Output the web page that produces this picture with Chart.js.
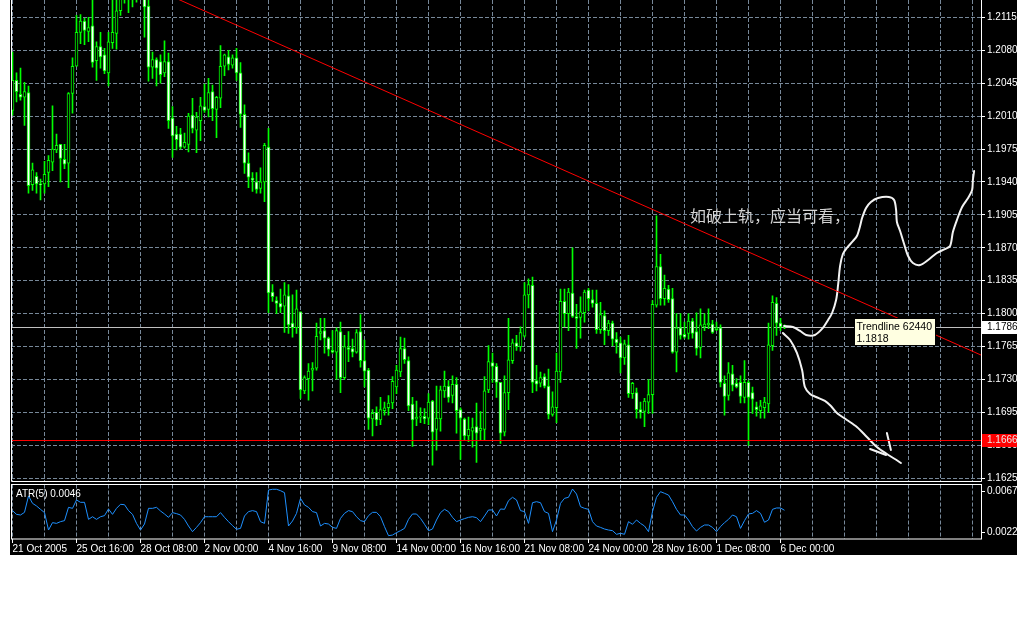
<!DOCTYPE html>
<html>
<head>
<meta charset="utf-8">
<script src="https://cdn.jsdelivr.net/npm/chart.js@4.4.0/dist/chart.umd.min.js"></script>
<style>
html, body { margin: 0; padding: 0; background: #fff; }
#panel { position: absolute; left: 10px; top: 0; width: 1007px; height: 555px; background: #000; }
canvas { position: absolute; left: 0; }
</style>
</head>
<body>
<div id="panel">
  <canvas id="price" width="1007" height="483" style="top:0"></canvas>
  <canvas id="atr" width="1007" height="72" style="top:483px"></canvas>
</div>
<script>
// EURUSD H4, 21 Oct - 6 Dec 2005, one entry per bar
var timeLabels = ['21 Oct 2005', '25 Oct 16:00', '28 Oct 08:00', '2 Nov 00:00', '4 Nov 16:00', '9 Nov 08:00',
    '14 Nov 00:00', '16 Nov 16:00', '21 Nov 08:00', '24 Nov 00:00', '28 Nov 16:00', '1 Dec 08:00', '6 Dec 00:00'];
var timeLabelBars = [0, 16, 32, 48, 64, 80, 96, 112, 128, 144, 160, 176, 192];
var priceTicks = [1.1625, 1.1660, 1.1695, 1.1730, 1.1765, 1.1800, 1.1835, 1.1870, 1.1905, 1.1940,
    1.1975, 1.2010, 1.2045, 1.2080, 1.2115];
var atrTicks = [0.0022, 0.0067];

var opens = [
    1.2016, 1.2048, 1.2033, 1.2030, 1.2035, 1.1937, 1.1946, 1.1938, 1.1938, 1.1950,
    1.1961, 1.1974, 1.1980, 1.1964, 1.1960, 1.2034, 1.2063, 1.2099, 1.2111, 1.2100,
    1.2106, 1.2069, 1.2084, 1.2075, 1.2056, 1.2088, 1.2098, 1.2122, 1.2149, 1.2146,
    1.2137, 1.2144, 1.2136, 1.2146, 1.2127, 1.2062, 1.2070, 1.2068, 1.2056, 1.2068,
    1.2008, 1.1991, 1.1991, 1.1977, 1.1980, 1.2011, 1.1995, 1.2005, 1.2020, 1.2017,
    1.2036, 1.2017, 1.2029, 1.2063, 1.2073, 1.2064, 1.2072, 1.2056, 1.2012, 1.1960,
    1.1944, 1.1940, 1.1933, 1.1940, 1.1977, 1.1823, 1.1814, 1.1811, 1.1808, 1.1819,
    1.1790, 1.1785, 1.1802, 1.1718, 1.1731, 1.1740, 1.1742, 1.1779, 1.1782, 1.1774,
    1.1761, 1.1759, 1.1781, 1.1732, 1.1764, 1.1763, 1.1759, 1.1781, 1.1750, 1.1740,
    1.1688, 1.1695, 1.1687, 1.1697, 1.1700, 1.1705, 1.1722, 1.1738, 1.1763, 1.1750,
    1.1704, 1.1688, 1.1690, 1.1691, 1.1689, 1.1707, 1.1677, 1.1688, 1.1718, 1.1723,
    1.1713, 1.1725, 1.1698, 1.1688, 1.1670, 1.1675, 1.1680, 1.1676, 1.1677, 1.1719,
    1.1748, 1.1744, 1.1727, 1.1674, 1.1716, 1.1750, 1.1769, 1.1765, 1.1776, 1.1820,
    1.1830, 1.1729, 1.1726, 1.1733, 1.1723, 1.1693, 1.1700, 1.1738, 1.1813, 1.1800,
    1.1822, 1.1797, 1.1796, 1.1801, 1.1825, 1.1815, 1.1811, 1.1783, 1.1798, 1.1782,
    1.1790, 1.1773, 1.1769, 1.1753, 1.1767, 1.1715, 1.1716, 1.1698, 1.1696, 1.1706,
    1.1714, 1.1809, 1.1850, 1.1816, 1.1826, 1.1816, 1.1759, 1.1785, 1.1778, 1.1779,
    1.1792, 1.1781, 1.1764, 1.1786, 1.1788, 1.1789, 1.1783, 1.1785, 1.1726, 1.1713,
    1.1736, 1.1726, 1.1727, 1.1711, 1.1727, 1.1716, 1.1701, 1.1697, 1.1700, 1.1704,
    1.1766, 1.1811, 1.1790, 1.1786
];
var highs = [
    1.2078, 1.2056, 1.2061, 1.2046, 1.2042, 1.1960, 1.1950, 1.1943, 1.1962, 1.1968,
    1.2021, 1.1991, 1.1980, 1.1980, 1.2035, 1.2072, 1.2117, 1.2118, 1.2114, 1.2115,
    1.2138, 1.2089, 1.2099, 1.2082, 1.2099, 1.2136, 1.2144, 1.2160, 1.2165, 1.2154,
    1.2156, 1.2160, 1.2163, 1.2154, 1.2136, 1.2078, 1.2072, 1.2075, 1.2090, 1.2077,
    1.2020, 1.1999, 1.1997, 1.1992, 1.2013, 1.2029, 1.2014, 1.2030, 1.2044, 1.2050,
    1.2043, 1.2031, 1.2085, 1.2076, 1.2080, 1.2075, 1.2082, 1.2067, 1.2022, 1.1971,
    1.1950, 1.1950, 1.1955, 1.1981, 1.1997, 1.1831, 1.1818, 1.1826, 1.1833, 1.1831,
    1.1820, 1.1825, 1.1802, 1.1734, 1.1747, 1.1748, 1.1790, 1.1795, 1.1795, 1.1775,
    1.1782, 1.1785, 1.1791, 1.1777, 1.1781, 1.1773, 1.1783, 1.1799, 1.1772, 1.1742,
    1.1698, 1.1701, 1.1711, 1.1706, 1.1713, 1.1733, 1.1745, 1.1775, 1.1774, 1.1754,
    1.1711, 1.1707, 1.1700, 1.1699, 1.1715, 1.1708, 1.1723, 1.1723, 1.1739, 1.1729,
    1.1734, 1.1732, 1.1700, 1.1689, 1.1690, 1.1689, 1.1705, 1.1696, 1.1733, 1.1766,
    1.1758, 1.1747, 1.1727, 1.1734, 1.1795, 1.1773, 1.1777, 1.1786, 1.1833, 1.1837,
    1.1839, 1.1745, 1.1738, 1.1736, 1.1741, 1.1717, 1.1758, 1.1826, 1.1826, 1.1827,
    1.1870, 1.1810, 1.1818, 1.1825, 1.1827, 1.1825, 1.1825, 1.1812, 1.1803, 1.1793,
    1.1792, 1.1780, 1.1775, 1.1772, 1.1777, 1.1727, 1.1721, 1.1706, 1.1710, 1.1730,
    1.1814, 1.1904, 1.1863, 1.1841, 1.1830, 1.1827, 1.1800, 1.1800, 1.1791, 1.1800,
    1.1795, 1.1801, 1.1805, 1.1800, 1.1805, 1.1793, 1.1791, 1.1788, 1.1734, 1.1748,
    1.1745, 1.1731, 1.1734, 1.1750, 1.1729, 1.1722, 1.1706, 1.1708, 1.1711, 1.1790,
    1.1819, 1.1817, 1.1795, 1.1788
];
var lows = [
    1.2011, 1.2025, 1.2027, 1.2000, 1.1928, 1.1931, 1.1928, 1.1921, 1.1928, 1.1935,
    1.1952, 1.1971, 1.1940, 1.1954, 1.1934, 1.2013, 1.2063, 1.2087, 1.2086, 1.2089,
    1.2062, 1.2048, 1.2061, 1.2055, 1.2042, 1.2082, 1.2081, 1.2117, 1.2130, 1.2120,
    1.2126, 1.2131, 1.2135, 1.2094, 1.2047, 1.2050, 1.2042, 1.2045, 1.2052, 1.1997,
    1.1966, 1.1974, 1.1975, 1.1976, 1.1972, 1.1992, 1.1971, 1.1984, 1.2014, 1.2009,
    1.2005, 1.1987, 1.2019, 1.2053, 1.2059, 1.2061, 1.2048, 1.1998, 1.1949, 1.1934,
    1.1930, 1.1928, 1.1928, 1.1919, 1.1801, 1.1813, 1.1800, 1.1801, 1.1780, 1.1779,
    1.1775, 1.1779, 1.1710, 1.1715, 1.1708, 1.1718, 1.1740, 1.1772, 1.1758, 1.1755,
    1.1758, 1.1730, 1.1716, 1.1730, 1.1749, 1.1754, 1.1758, 1.1743, 1.1722, 1.1677,
    1.1670, 1.1681, 1.1682, 1.1692, 1.1692, 1.1699, 1.1715, 1.1733, 1.1747, 1.1697,
    1.1659, 1.1681, 1.1684, 1.1683, 1.1682, 1.1639, 1.1655, 1.1675, 1.1711, 1.1706,
    1.1705, 1.1673, 1.1645, 1.1665, 1.1664, 1.1658, 1.1642, 1.1666, 1.1665, 1.1716,
    1.1727, 1.1711, 1.1662, 1.1670, 1.1698, 1.1747, 1.1761, 1.1760, 1.1775, 1.1806,
    1.1716, 1.1718, 1.1722, 1.1721, 1.1688, 1.1691, 1.1684, 1.1727, 1.1786, 1.1782,
    1.1796, 1.1763, 1.1774, 1.1791, 1.1803, 1.1807, 1.1779, 1.1779, 1.1767, 1.1777,
    1.1766, 1.1758, 1.1737, 1.1746, 1.1711, 1.1710, 1.1689, 1.1689, 1.1680, 1.1694,
    1.1694, 1.1807, 1.1809, 1.1809, 1.1812, 1.1758, 1.1738, 1.1773, 1.1774, 1.1773,
    1.1774, 1.1756, 1.1753, 1.1782, 1.1784, 1.1779, 1.1782, 1.1722, 1.1692, 1.1708,
    1.1718, 1.1721, 1.1705, 1.1705, 1.1660, 1.1694, 1.1691, 1.1689, 1.1689, 1.1695,
    1.1761, 1.1777, 1.1782, 1.1784
];
var closes = [
    1.2048, 1.2036, 1.2030, 1.2036, 1.1936, 1.1953, 1.1938, 1.1937, 1.1948, 1.1963,
    1.1975, 1.1979, 1.1965, 1.1959, 1.2034, 1.2063, 1.2099, 1.2111, 1.2101, 1.2104,
    1.2067, 1.2084, 1.2073, 1.2058, 1.2089, 1.2099, 1.2122, 1.2149, 1.2144, 1.2137,
    1.2144, 1.2136, 1.2146, 1.2126, 1.2062, 1.2070, 1.2061, 1.2054, 1.2068, 1.2005,
    1.1989, 1.1985, 1.1977, 1.1982, 1.2010, 1.1997, 1.2009, 1.2021, 1.2016, 1.2035,
    1.2018, 1.2030, 1.2063, 1.2075, 1.2065, 1.2072, 1.2056, 1.2012, 1.1960, 1.1945,
    1.1942, 1.1932, 1.1940, 1.1979, 1.1822, 1.1818, 1.1811, 1.1807, 1.1820, 1.1788,
    1.1785, 1.1805, 1.1719, 1.1732, 1.1739, 1.1742, 1.1776, 1.1781, 1.1774, 1.1762,
    1.1759, 1.1782, 1.1732, 1.1765, 1.1762, 1.1759, 1.1780, 1.1750, 1.1739, 1.1689,
    1.1694, 1.1687, 1.1698, 1.1700, 1.1705, 1.1728, 1.1740, 1.1763, 1.1751, 1.1702,
    1.1687, 1.1690, 1.1691, 1.1688, 1.1706, 1.1674, 1.1689, 1.1719, 1.1723, 1.1711,
    1.1725, 1.1697, 1.1689, 1.1670, 1.1677, 1.1679, 1.1673, 1.1678, 1.1718, 1.1749,
    1.1744, 1.1727, 1.1673, 1.1716, 1.1751, 1.1769, 1.1765, 1.1780, 1.1820, 1.1831,
    1.1727, 1.1725, 1.1732, 1.1723, 1.1693, 1.1701, 1.1739, 1.1813, 1.1800, 1.1823,
    1.1797, 1.1795, 1.1802, 1.1823, 1.1816, 1.1811, 1.1783, 1.1799, 1.1782, 1.1790,
    1.1773, 1.1769, 1.1753, 1.1768, 1.1715, 1.1726, 1.1698, 1.1695, 1.1707, 1.1714,
    1.1810, 1.1850, 1.1816, 1.1827, 1.1815, 1.1759, 1.1785, 1.1777, 1.1775, 1.1792,
    1.1779, 1.1763, 1.1788, 1.1789, 1.1790, 1.1780, 1.1785, 1.1727, 1.1712, 1.1737,
    1.1724, 1.1722, 1.1712, 1.1727, 1.1711, 1.1709, 1.1698, 1.1702, 1.1706, 1.1767,
    1.1812, 1.1790, 1.1786, 1.1786
];
var atr5 = [
    0.00458, 0.00417, 0.00410, 0.00439, 0.00619, 0.00538, 0.00509, 0.00472, 0.00436, 0.00245,
    0.00326, 0.00318, 0.00337, 0.00348, 0.00494, 0.00483, 0.00575, 0.00549, 0.00549, 0.00362,
    0.00391, 0.00362, 0.00391, 0.00403, 0.00476, 0.00417, 0.00483, 0.00527, 0.00523, 0.00458,
    0.00417, 0.00318, 0.00245, 0.00311, 0.00483, 0.00483, 0.00494, 0.00454, 0.00421, 0.00384,
    0.00436, 0.00425, 0.00410, 0.00362, 0.00289, 0.00227, 0.00274, 0.00326, 0.00391, 0.00391,
    0.00391, 0.00391, 0.00436, 0.00384, 0.00337, 0.00293, 0.00253, 0.00263, 0.00399, 0.00447,
    0.00458, 0.00447, 0.00337, 0.00318, 0.00684, 0.00692, 0.00692, 0.00677, 0.00655, 0.00289,
    0.00344, 0.00428, 0.00593, 0.00520, 0.00494, 0.00447, 0.00436, 0.00289, 0.00318, 0.00311,
    0.00274, 0.00263, 0.00373, 0.00428, 0.00458, 0.00447, 0.00391, 0.00348, 0.00337, 0.00403,
    0.00439, 0.00439, 0.00391, 0.00282, 0.00183, 0.00190, 0.00216, 0.00238, 0.00263, 0.00362,
    0.00421, 0.00421, 0.00373, 0.00308, 0.00238, 0.00256, 0.00355, 0.00436, 0.00472, 0.00447,
    0.00384, 0.00337, 0.00355, 0.00370, 0.00384, 0.00391, 0.00381, 0.00337, 0.00399, 0.00465,
    0.00465, 0.00399, 0.00476, 0.00472, 0.00567, 0.00604, 0.00575, 0.00458, 0.00447, 0.00318,
    0.00545, 0.00556, 0.00545, 0.00447, 0.00428, 0.00227, 0.00355, 0.00538, 0.00593, 0.00604,
    0.00695, 0.00640, 0.00501, 0.00483, 0.00472, 0.00337, 0.00289, 0.00274, 0.00256, 0.00245,
    0.00238, 0.00198, 0.00209, 0.00198, 0.00337, 0.00308, 0.00355, 0.00318, 0.00289, 0.00227,
    0.00447, 0.00604, 0.00666, 0.00648, 0.00629, 0.00556, 0.00472, 0.00410, 0.00410, 0.00355,
    0.00282, 0.00234, 0.00274, 0.00300, 0.00300, 0.00274, 0.00227, 0.00282, 0.00326, 0.00362,
    0.00410, 0.00391, 0.00263, 0.00348, 0.00421, 0.00428, 0.00458, 0.00428, 0.00330, 0.00355,
    0.00472, 0.00487, 0.00487, 0.00462
];

var bidPrice = 1.1786;
var levelPrice = 1.1666;
// user drawn objects: [bar, price]
var trendline = [[21.875, 1.2171], [242.125, 1.1756]];
var trendTip = { at: [210.4, 1.17954], lines: ['Trendline 62440', '1.1818'] };
var note = { at: [169.4, 1.18974], text: '如破上轨，应当可看，' };
var sketchUp = [
    [192.9, 1.17869], [195.1, 1.17858], [196.9, 1.17816], [198.4, 1.17773], [200.6, 1.17773],
    [202.6, 1.17848], [203.9, 1.17933], [204.9, 1.18007], [205.9, 1.18145], [206.4, 1.18305],
    [206.9, 1.18507], [207.6, 1.18634], [208.6, 1.18698], [210.1, 1.18772], [211.1, 1.18825],
    [211.9, 1.18932], [212.4, 1.19017], [213.4, 1.19123], [214.6, 1.19187], [216.4, 1.19229],
    [219.1, 1.19240], [220.4, 1.19208], [220.9, 1.19102], [221.1, 1.18974], [221.9, 1.18879],
    [222.9, 1.18740], [223.9, 1.18613], [225.1, 1.18538], [226.9, 1.18517], [228.9, 1.18570],
    [231.1, 1.18645], [233.1, 1.18687], [234.4, 1.18719], [235.1, 1.18868], [236.1, 1.18995],
    [237.4, 1.19134], [238.9, 1.19229], [239.9, 1.19314], [240.1, 1.19421], [240.4, 1.19516]
];
var sketchDown = [
    [192.6, 1.17794], [194.4, 1.17720], [196.1, 1.17582], [197.4, 1.17401], [198.1, 1.17220],
    [199.4, 1.17146], [200.9, 1.17114], [203.1, 1.17072], [204.6, 1.17018], [206.1, 1.16944],
    [208.6, 1.16870], [211.1, 1.16795], [213.6, 1.16689], [216.1, 1.16583], [218.6, 1.16508],
    [220.6, 1.16455], [222.1, 1.16413]
];
var arrowBarbA = [[218.6, 1.16731], [219.6, 1.16551]];
var arrowBarbB = [[214.4, 1.16561], [218.4, 1.16498]];

var gridColor = '#778899';
var lime = '#00ff00';
var axisFont = { family: 'Liberation Sans, Arial, sans-serif', size: 10 };

var gridBars = [];
for (var b = 0; b <= 240; b += 8) gridBars.push(b);

function setTicks(values) {
    return function (scale) {
        scale.ticks = values.map(function (v) { return { value: v }; });
    };
}
function fixSize(w, h) {
    return function (scale) {
        if (w !== null) scale.width = w;
        if (h !== null) scale.height = h;
        scale.paddingTop = scale.paddingBottom = scale.paddingLeft = scale.paddingRight = 0;
    };
}
function points(list) {
    return list.map(function (p) { return { x: p[0], y: p[1] }; });
}
function sketch(list) {
    return {
        type: 'line', data: points(list), borderColor: '#f2f2f2', borderWidth: 2,
        pointRadius: 0, tension: 0.3, borderCapStyle: 'round', borderJoinStyle: 'round', order: 0
    };
}
function priceBox(ctx, chart, value, bg, fg) {
    var a = chart.chartArea;
    var py = Math.round(chart.scales.y.getPixelForValue(value));
    ctx.fillStyle = bg;
    ctx.fillRect(a.right + 1, py - 6, chart.width - a.right - 1, 13);
    ctx.fillStyle = fg;
    ctx.font = '10px Liberation Sans, Arial, sans-serif';
    ctx.textBaseline = 'middle';
    ctx.textAlign = 'left';
    ctx.fillText(value.toFixed(4), a.right + 6, py + 0.5);
}

var priceOverlay = {
    id: 'priceOverlay',
    beforeDatasetsDraw: function (chart) {
        var ctx = chart.ctx, a = chart.chartArea;
        var py = Math.round(chart.scales.y.getPixelForValue(bidPrice)) + 0.5;
        ctx.save();
        ctx.strokeStyle = '#c0c0c0';
        ctx.lineWidth = 1;
        ctx.beginPath();
        ctx.moveTo(a.left, py);
        ctx.lineTo(a.right, py);
        ctx.stroke();
        ctx.restore();
    },
    afterDatasetsDraw: function (chart) {
        var ctx = chart.ctx, a = chart.chartArea, x = chart.scales.x, y = chart.scales.y;
        ctx.save();
        var ly = Math.round(y.getPixelForValue(levelPrice)) + 0.5;
        ctx.strokeStyle = '#ff0000';
        ctx.lineWidth = 1;
        ctx.beginPath();
        ctx.moveTo(a.left, ly);
        ctx.lineTo(a.right, ly);
        ctx.stroke();

        ctx.fillStyle = '#d4d4d4';
        ctx.font = '16px "Noto Sans CJK SC", sans-serif';
        ctx.textBaseline = 'alphabetic';
        ctx.fillText(note.text, x.getPixelForValue(note.at[0]), y.getPixelForValue(note.at[1]));

        var tx = Math.round(x.getPixelForValue(trendTip.at[0])) + 0.5;
        var ty = Math.round(y.getPixelForValue(trendTip.at[1])) + 0.5;
        ctx.fillStyle = '#ffffe1';
        ctx.fillRect(tx, ty, 81, 27);
        ctx.strokeStyle = '#000000';
        ctx.strokeRect(tx, ty, 81, 27);
        ctx.fillStyle = '#000000';
        ctx.font = '10.5px Liberation Sans, Arial, sans-serif';
        ctx.fillText(trendTip.lines[0], tx + 2, ty + 11);
        ctx.fillText(trendTip.lines[1], tx + 2, ty + 23);
        ctx.restore();
    },
    afterDraw: function (chart) {
        var ctx = chart.ctx, a = chart.chartArea;
        ctx.save();
        ctx.strokeStyle = '#ffffff';
        ctx.lineWidth = 1;
        ctx.beginPath();
        ctx.moveTo(a.left + 0.5, 0);
        ctx.lineTo(a.left + 0.5, a.bottom);
        ctx.lineTo(a.right + 0.5, a.bottom);
        ctx.lineTo(a.right + 0.5, 0);
        ctx.stroke();
        priceBox(ctx, chart, bidPrice, '#ffffff', '#000000');
        priceBox(ctx, chart, levelPrice, '#ff0000', '#e8e8e8');
        ctx.restore();
    }
};

var atrOverlay = {
    id: 'atrOverlay',
    afterDraw: function (chart) {
        var ctx = chart.ctx, a = chart.chartArea;
        ctx.save();
        ctx.strokeStyle = '#ffffff';
        ctx.lineWidth = 1;
        ctx.strokeRect(a.left + 0.5, a.top, a.right - a.left, a.bottom - a.top);
        ctx.fillStyle = '#ffffff';
        ctx.font = '10px Liberation Sans, Arial, sans-serif';
        ctx.textBaseline = 'top';
        ctx.fillText('ATR(5) ' + atr5[atr5.length - 1].toFixed(4), a.left + 5, a.top + 5);
        ctx.restore();
    }
};

var bars = opens.map(function (o, i) { return i; });
var wickData = bars.map(function (i) { return { x: i, y: [lows[i], highs[i]] }; });
var bodyData = bars.map(function (i) { return { x: i, y: [opens[i], closes[i]] }; });
var bodyFill = bars.map(function (i) { return closes[i] < opens[i] ? '#ffffff' : '#000000'; });

new Chart(document.getElementById('price'), {
    type: 'bar',
    data: {
        datasets: [
            { type: 'line', data: points(trendline), borderColor: '#ff0000', borderWidth: 1, pointRadius: 0, order: 0 },
            sketch(sketchUp),
            sketch(sketchDown),
            sketch(arrowBarbA),
            sketch(arrowBarbB),
            {
                data: bodyData, barThickness: 3, borderWidth: 1, borderColor: lime, backgroundColor: bodyFill,
                borderSkipped: false, minBarLength: 1, grouped: false, order: 1
            },
            { data: wickData, barThickness: 1, borderWidth: 0, backgroundColor: lime, grouped: false, order: 2 }
        ]
    },
    options: {
        responsive: false,
        animation: false,
        devicePixelRatio: 1,
        events: [],
        layout: { padding: { left: 1, right: 0, top: 0, bottom: 1.5 } },
        plugins: { legend: { display: false }, tooltip: { enabled: false } },
        scales: {
            x: {
                type: 'linear', min: -0.375, max: 242.125, offset: false,
                afterBuildTicks: setTicks(gridBars), afterFit: fixSize(null, 0),
                grid: { color: gridColor, drawTicks: false, offset: false },
                border: { display: false, dash: [4, 2] },
                ticks: { display: false }
            },
            y: {
                position: 'right', min: 1.16216, max: 1.213339,
                afterBuildTicks: setTicks(priceTicks), afterFit: fixSize(36, null),
                grid: { color: gridColor, tickColor: '#ffffff', tickLength: 4 },
                border: { display: false, dash: [4, 2] },
                ticks: { color: '#ffffff', font: axisFont, padding: 2, callback: function (v) { return v.toFixed(4); } }
            }
        }
    },
    plugins: [priceOverlay]
});

new Chart(document.getElementById('atr'), {
    type: 'line',
    data: {
        datasets: [{
            data: bars.map(function (i) { return { x: i, y: atr5[i] }; }),
            borderColor: '#1e90ff', borderWidth: 1, pointRadius: 0, tension: 0
        }]
    },
    options: {
        responsive: false,
        animation: false,
        devicePixelRatio: 1,
        events: [],
        layout: { padding: { left: 1, right: 0, top: 1.5, bottom: 0 } },
        plugins: { legend: { display: false }, tooltip: { enabled: false } },
        scales: {
            x: {
                type: 'linear', min: -0.375, max: 242.125, offset: false,
                afterBuildTicks: setTicks(gridBars), afterFit: fixSize(null, 16),
                grid: {
                    color: gridColor, tickLength: 4,
                    tickColor: function (c) { return timeLabelBars.indexOf(c.tick.value) >= 0 ? '#ffffff' : 'rgba(0,0,0,0)'; }
                },
                border: { display: false, dash: [4, 2] },
                ticks: {
                    color: '#ffffff', font: axisFont, padding: 0, align: 'start',
                    maxRotation: 0, minRotation: 0, autoSkip: false,
                    callback: function (v) {
                        var k = timeLabelBars.indexOf(v);
                        return k >= 0 ? timeLabels[k] : '';
                    }
                }
            },
            y: {
                position: 'right', min: 0.001465, max: 0.007446,
                afterBuildTicks: setTicks(atrTicks), afterFit: fixSize(36, null),
                grid: { drawOnChartArea: false, tickColor: '#ffffff', tickLength: 4 },
                border: { display: false },
                ticks: { color: '#ffffff', font: axisFont, padding: 2, callback: function (v) { return v.toFixed(4); } }
            }
        }
    },
    plugins: [atrOverlay]
});
</script>
</body>
</html>
